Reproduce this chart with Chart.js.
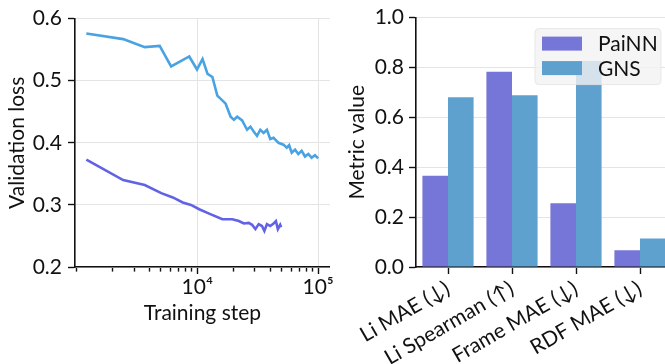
<!DOCTYPE html>
<html>
<head>
<meta charset="utf-8">
<script src="https://cdn.jsdelivr.net/npm/chart.js@4.4.1/dist/chart.umd.min.js"></script>
<style>
  html, body { margin: 0; padding: 0; background: #fff; overflow: hidden; }
  #wrap { position: relative; width: 665px; height: 364px; overflow: hidden; }
  #lossBox { position: absolute; left: 0; top: 0; width: 335px; height: 364px; }
  #metricBox { position: absolute; left: 335px; top: 0; width: 340px; height: 364px; }
</style>
</head>
<body>
<div id="wrap">
  <div id="lossBox"><canvas id="lossChart"></canvas></div>
  <div id="metricBox"><canvas id="metricChart"></canvas></div>
</div>
<script>
// validation curves
const gnsSteps = [1210, 2440, 3680, 4890, 6080, 8590, 9950, 11060, 12160, 13340,
  14650, 17170, 18880, 20090, 21400, 23500, 25830, 27540, 29310, 31200,
  33240, 35400, 37700, 40150, 42750, 46970, 51620, 54980, 57500, 60400,
  64400, 68500, 73000, 77800, 82800, 88200, 94000, 100000];
const gnsLoss = [0.576, 0.567, 0.554, 0.556, 0.523, 0.539, 0.518, 0.535, 0.511, 0.506,
  0.476, 0.463, 0.442, 0.437, 0.442, 0.436, 0.421, 0.426, 0.418, 0.411,
  0.421, 0.416, 0.421, 0.406, 0.408, 0.400, 0.397, 0.392, 0.396, 0.384,
  0.389, 0.382, 0.387, 0.378, 0.382, 0.376, 0.380, 0.375];
const painnSteps = [1210, 2440, 3680, 5040, 6280, 7590, 8870, 10380, 12540, 16130,
  19480, 22090, 24260, 26670, 28390, 30260, 32210, 34300, 35900, 37700,
  40150, 42750, 44700, 46400, 48500, 49400];
const painnLoss = [0.373, 0.340, 0.332, 0.319, 0.312, 0.304, 0.300, 0.293, 0.286, 0.277,
  0.277, 0.274, 0.270, 0.271, 0.268, 0.261, 0.269, 0.266, 0.258, 0.269,
  0.266, 0.270, 0.274, 0.261, 0.268, 0.264];

const stepTicks = [1e3, 2e3, 3e3, 4e3, 5e3, 6e3, 7e3, 8e3, 9e3,
  1e4, 2e4, 3e4, 4e4, 5e4, 6e4, 7e4, 8e4, 9e4, 1e5];
const stepLabels = { 10000: '10⁴', 100000: '10⁵' };
const lossTicks = [0.2, 0.3, 0.4, 0.5, 0.6];

// final metrics
const metricNames = ['Li MAE (↓)', 'Li Spearman (↑)', 'Frame MAE (↓)', 'RDF MAE (↓)'];
const painnMetrics = [0.366, 0.783, 0.256, 0.067];
const gnsMetrics = [0.681, 0.689, 0.826, 0.114];
const metricTicks = [0, 0.2, 0.4, 0.6, 0.8, 1.0];

const ink = '#111111';
const gridGrey = '#e4e4e4';
const fontStack = 'Lato, "DejaVu Sans", sans-serif';
Chart.defaults.font.family = fontStack;
Chart.defaults.font.size = 21;
Chart.defaults.color = ink;

const toPoints = (xs, ys) => xs.map((x, i) => ({ x: x, y: ys[i] }));
const isDecade = c => c.tick && stepLabels[c.tick.value] !== undefined;

new Chart(document.getElementById('lossChart'), {
  type: 'line',
  data: {
    datasets: [
      { label: 'GNS', data: toPoints(gnsSteps, gnsLoss), borderColor: '#49a3e3', borderWidth: 2.6, pointRadius: 0 },
      { label: 'PaiNN', data: toPoints(painnSteps, painnLoss), borderColor: '#6262e6', borderWidth: 2.6, pointRadius: 0 }
    ]
  },
  options: {
    responsive: true,
    maintainAspectRatio: false,
    animation: false,
    layout: { padding: { top: 13, right: 3, bottom: 34, left: 0 } },
    plugins: { legend: { display: false }, tooltip: { enabled: false } },
    scales: {
      x: {
        type: 'logarithmic',
        min: 975,
        max: 125000,
        afterBuildTicks: s => { s.ticks = stepTicks.map(v => ({ value: v })); },
        afterFit: s => { s.height = 63; },
        ticks: { autoSkip: false, maxRotation: 0, minRotation: 0, padding: 1, color: ink,
          callback: v => stepLabels[v] || '' },
        grid: {
          color: c => isDecade(c) ? gridGrey : 'rgba(0,0,0,0)',
          lineWidth: 1,
          tickColor: ink, tickLength: 7, tickWidth: 1.4,
          tickBorderDash: c => isDecade(c) ? [] : [4, 20]
        },
        border: { color: ink, width: 1.6 },
        title: { display: true, text: 'Training step', color: ink, padding: { top: 0, bottom: 4 } }
      },
      y: {
        min: 0.2,
        max: 0.6,
        afterBuildTicks: s => { s.ticks = lossTicks.map(v => ({ value: v })); },
        afterFit: s => { s.width = 75; },
        ticks: { padding: 6, color: ink, callback: v => v.toFixed(1) },
        grid: { color: gridGrey, lineWidth: 1, tickColor: ink, tickLength: 7, tickWidth: 1.4 },
        border: { color: ink, width: 1.6 },
        title: { display: true, text: 'Validation loss', color: ink, padding: { top: 5, bottom: 0 } }
      }
    }
  }
});

// boxed legend drawn over the bars
const metricLegend = {
  id: 'metricLegend',
  afterDatasetsDraw(chart) {
    const { ctx, chartArea } = chart;
    const w = 126, h = 56;
    const x0 = chartArea.right - 137, y0 = chartArea.top + 11;
    ctx.save();
    ctx.beginPath();
    ctx.roundRect(x0, y0, w, h, 4);
    ctx.fillStyle = 'rgba(242,242,242,0.8)';
    ctx.fill();
    ctx.strokeStyle = 'rgba(226,226,226,0.8)';
    ctx.lineWidth = 1;
    ctx.stroke();
    ctx.font = '21px ' + fontStack;
    ctx.textBaseline = 'middle';
    chart.data.datasets.forEach((ds, i) => {
      const cy = y0 + 15 + i * 24.5;
      ctx.fillStyle = ds.backgroundColor;
      ctx.fillRect(x0 + 7, cy - 7, 40, 14);
      ctx.fillStyle = ink;
      ctx.fillText(ds.label, x0 + 63, cy + 1);
    });
    ctx.restore();
  }
};

new Chart(document.getElementById('metricChart'), {
  type: 'bar',
  data: {
    labels: metricNames,
    datasets: [
      { label: 'PaiNN', data: painnMetrics, backgroundColor: '#7676d8' },
      { label: 'GNS', data: gnsMetrics, backgroundColor: '#5ea1cf' }
    ]
  },
  options: {
    responsive: true,
    maintainAspectRatio: false,
    animation: false,
    layout: { padding: { top: 13, right: 3, bottom: 0, left: 0 } },
    datasets: { bar: { categoryPercentage: 0.8, barPercentage: 1.0 } },
    plugins: { legend: { display: false }, tooltip: { enabled: false } },
    scales: {
      x: {
        afterFit: s => { s.height = 97; },
        ticks: { autoSkip: false, minRotation: 30, maxRotation: 30, padding: 2, color: ink },
        grid: { offset: false, drawOnChartArea: false, tickColor: ink, tickLength: 7, tickWidth: 1.4 },
        border: { color: ink, width: 1.6 }
      },
      y: {
        min: 0,
        max: 1,
        afterBuildTicks: s => { s.ticks = metricTicks.map(v => ({ value: v })); },
        afterFit: s => { s.width = 81; },
        ticks: { padding: 5, color: ink, callback: v => v.toFixed(1) },
        grid: { color: gridGrey, lineWidth: 1, tickColor: ink, tickLength: 7, tickWidth: 1.4 },
        border: { color: ink, width: 1.6 },
        title: { display: true, text: 'Metric value', color: ink, padding: { top: 10, bottom: 0 } }
      }
    }
  },
  plugins: [metricLegend]
});
</script>
</body>
</html>
